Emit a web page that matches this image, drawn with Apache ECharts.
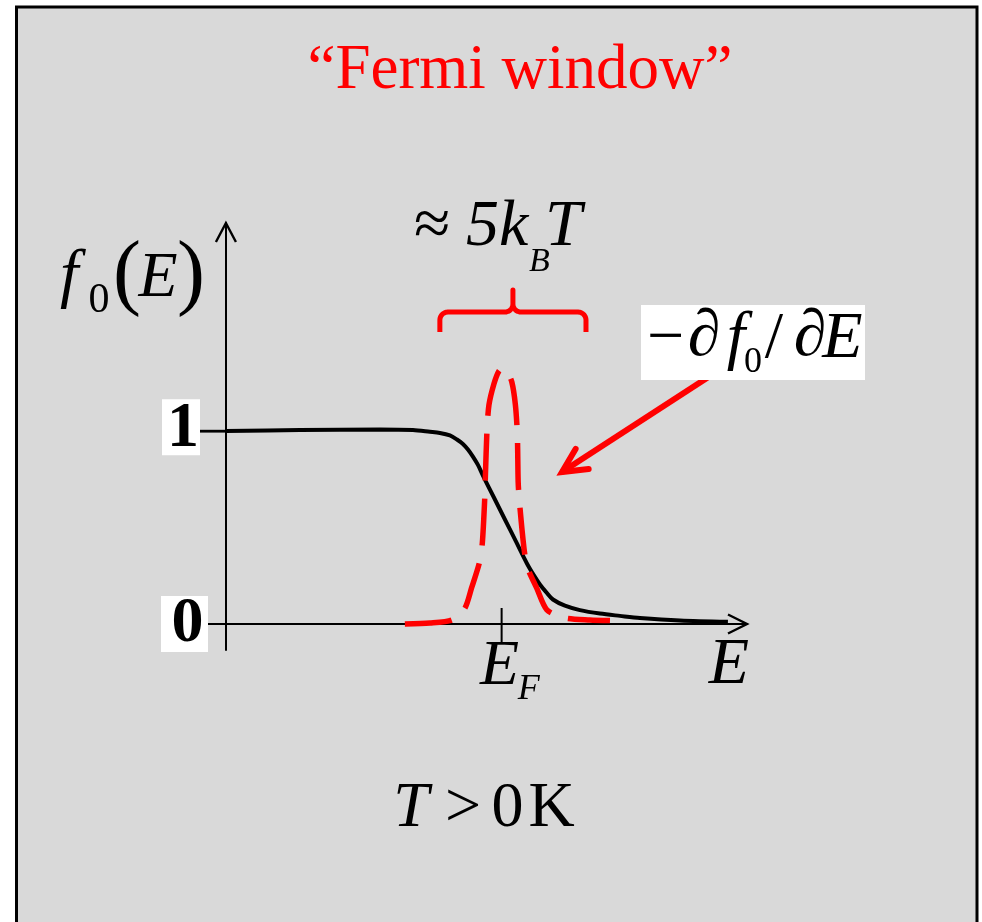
<!DOCTYPE html>
<html>
<head>
<meta charset="utf-8">
<style>
  html, body { margin: 0; padding: 0; background: #fff; }
  #chart { width: 982px; height: 922px; }
</style>
<script src="https://cdn.jsdelivr.net/npm/echarts@6/dist/echarts.min.js"></script>
</head>
<body>
<div id="chart"></div>
<script>
// Energy is measured from the vertical axis; the Fermi level sits at E = 10.
const E_F = 10;
const E_RANGE = [-0.65, 18.9];
const F_RANGE = [-0.135, 2.08];
const Y_TICKS = [0, 1];
const Y_TICK_LABELS = ['0', '1'];

// Occupation f0(E) at T > 0
const fermiE = [0.000, 2.684, 5.586, 6.783, 7.400, 7.762, 8.125, 8.379, 8.596, 8.778, 8.959, 9.141, 9.322, 9.721, 10.120, 10.519, 10.918, 11.172, 11.389, 11.643, 11.861, 12.296, 12.840, 13.566, 14.291, 15.016, 16.467, 18.208];
const fermiF = [1.001, 1.006, 1.009, 1.006, 0.997, 0.991, 0.978, 0.957, 0.934, 0.905, 0.868, 0.825, 0.770, 0.656, 0.542, 0.428, 0.314, 0.252, 0.205, 0.161, 0.127, 0.095, 0.072, 0.054, 0.042, 0.031, 0.018, 0.011];

// Fermi window  -df0/dE
const windowE = [6.49, 7.40, 8.20, 8.67, 8.91, 9.19, 9.30, 9.39, 9.41, 9.47, 9.54, 9.72, 9.90, 10.05, 10.19, 10.37, 10.50, 10.57, 10.60, 10.64, 10.81, 10.93, 11.27, 11.64, 12.30, 13.20, 13.93];
const windowF = [0.000, 0.005, 0.021, 0.083, 0.187, 0.316, 0.420, 0.659, 0.762, 1.006, 1.136, 1.245, 1.312, 1.328, 1.312, 1.255, 1.136, 0.985, 0.737, 0.643, 0.394, 0.296, 0.187, 0.073, 0.031, 0.021, 0.018];

// Bracket marking the ~5 kBT width of the window
const BRACE_FROM = 7.76, BRACE_TO = 13.06, BRACE_MID = 10.41;
const BRACE_LEVEL = 1.618, BRACE_LEG = 1.515, BRACE_TIP = 1.732;

// Pointer from the -df0/dE label to the window curve
const POINTER_TAIL = [17.6, 1.29];
const POINTER_HEAD = [12.19, 0.788];

const SERIF = '"Liberation Serif", "Times New Roman", serif';
const RED = '#ff0000';

function pairs(xs, ys) { return xs.map((x, i) => [x, ys[i]]); }
function font(size, italic, bold) { return (italic ? 'italic ' : '') + (bold ? 'bold ' : '') + size + 'px ' + SERIF; }

function txt(text, x, y, size, opt) {
  opt = opt || {};
  const a = opt.align || 'center';
  return {
    type: 'text', x: x, y: y, z: 100,
    style: {
      text: text, font: font(size, opt.italic, opt.bold), fill: opt.color || '#000',
      textAlign: a, align: a, textVerticalAlign: 'middle', verticalAlign: 'middle'
    }
  };
}
function box(x, y, w, h) {
  return { type: 'rect', z: 99, shape: { x: x, y: y, width: w, height: h }, style: { fill: '#fff' } };
}

// quarter-circle sampling for the bracket corners
function arcPts(cx, cy, r, a0, a1) {
  const pts = [];
  for (let i = 0; i <= 8; i++) {
    const a = a0 + (a1 - a0) * i / 8;
    pts.push([cx + r * Math.cos(a), cy + r * Math.sin(a)]);
  }
  return pts;
}

function chevron(tip, dir, len, half) {
  // dir: unit vector pointing from the tip back along the shaft
  const nx = -dir[1], ny = dir[0];
  const bx = tip[0] + dir[0] * len, by = tip[1] + dir[1] * len;
  return [[bx + nx * half, by + ny * half], tip, [bx - nx * half, by - ny * half]];
}

function renderDecor(params, api) {
  const children = [];
  const black = { stroke: '#000', fill: 'none', lineWidth: 2.4 };

  // axis arrowheads
  const xEnd = api.coord([E_RANGE[1], 0]);
  children.push({ type: 'polyline', shape: { points: chevron(xEnd, [-1, 0], 19, 9.5) }, style: black });
  const yEnd = api.coord([0, F_RANGE[1]]);
  children.push({ type: 'polyline', shape: { points: chevron(yEnd, [0, 1], 19, 10) }, style: black });

  // Fermi level tick crossing the energy axis
  const ef = api.coord([E_F, 0]);
  children.push({ type: 'line', shape: { x1: ef[0], y1: ef[1] - 16, x2: ef[0], y2: ef[1] + 18 }, style: { stroke: '#000', lineWidth: 2 } });

  // tick at f0 = 1
  const one = api.coord([0, 1]);
  children.push({ type: 'line', shape: { x1: one[0] - 26, y1: one[1], x2: one[0], y2: one[1] }, style: { stroke: '#000', lineWidth: 2.8 } });

  // bracket
  const L = api.coord([BRACE_FROM, BRACE_LEG]);
  const R = api.coord([BRACE_TO, BRACE_LEG]);
  const lvl = api.coord([BRACE_MID, BRACE_LEVEL]);
  const tip = api.coord([BRACE_MID, BRACE_TIP]);
  const r = 8, yb = lvl[1], xm = lvl[0];
  let pts = [[L[0], L[1]]];
  pts = pts.concat(arcPts(L[0] + r, yb + r, r, Math.PI, 1.5 * Math.PI));
  pts = pts.concat(arcPts(xm - r, yb - r, r, 0.5 * Math.PI, 0));
  pts.push([xm, tip[1]]);
  pts = pts.concat(arcPts(xm + r, yb - r, r, Math.PI, 0.5 * Math.PI));
  pts = pts.concat(arcPts(R[0] - r, yb + r, r, 1.5 * Math.PI, 2 * Math.PI));
  pts.push([R[0], R[1]]);
  children.push({ type: 'polyline', shape: { points: pts }, style: { stroke: RED, fill: 'none', lineWidth: 5, lineJoin: 'round' } });

  // pointer arrow
  const t = api.coord(POINTER_TAIL), h = api.coord(POINTER_HEAD);
  const dx = t[0] - h[0], dy = t[1] - h[1], d = Math.hypot(dx, dy);
  const u = [dx / d, dy / d];
  children.push({ type: 'line', shape: { x1: t[0], y1: t[1], x2: h[0], y2: h[1] }, style: { stroke: RED, lineWidth: 6 } });
  children.push({ type: 'polyline', shape: { points: chevron(h, u, 24, 12) }, style: { stroke: RED, fill: 'none', lineWidth: 6, lineCap: 'round', lineJoin: 'miter' } });

  return { type: 'group', children: children };
}

const chart = echarts.init(document.getElementById('chart'));

chart.setOption({
  backgroundColor: '#fff',
  animation: false,
  grid: { left: 208, top: 223, width: 539, height: 427, containLabel: false },
  xAxis: {
    type: 'value', min: E_RANGE[0], max: E_RANGE[1],
    axisLine: { show: true, onZero: true, lineStyle: { color: '#000', width: 2 } },
    axisTick: { show: false }, axisLabel: { show: false }, splitLine: { show: false }
  },
  yAxis: {
    type: 'value', min: F_RANGE[0], max: F_RANGE[1],
    axisLine: { show: true, onZero: true, lineStyle: { color: '#000', width: 2 } },
    axisTick: { show: false }, axisLabel: { show: false }, splitLine: { show: false }
  },
  series: [
    {
      name: 'f0', type: 'line', data: pairs(fermiE, fermiF), showSymbol: false,
      smooth: 0.3, z: 3,
      lineStyle: { color: '#000', width: 4 }
    },
    {
      name: 'window', type: 'line', data: pairs(windowE, windowF), showSymbol: false,
      smooth: 0.25, z: 4,
      lineStyle: { color: RED, width: 5.5, type: [47, 18], cap: 'butt' }
    },
    {
      name: 'decor', type: 'custom', data: [[0, 0]], renderItem: renderDecor, z: 5, silent: true
    }
  ]
});

// Text placed from the axes' own scales
const toPx = (v) => chart.convertToPixel({ gridIndex: 0 }, v);
const p1 = toPx([0, Y_TICKS[1]]), p0 = toPx([0, Y_TICKS[0]]), pEF = toPx([E_F, 0]), pEnd = toPx([E_RANGE[1], 0]);

const graphics = [
  // panel
  { type: 'rect', z: -100, shape: { x: 16.5, y: 7, width: 960.5, height: 960 }, style: { fill: '#d9d9d9', stroke: '#000', lineWidth: 3 } },

  // title
  txt('\u201CFermi window\u201D', 520, 71, 63, { color: RED }),

  // width of the window
  txt('\u2248', 432, 228, 66),
  txt('5k', 466, 228, 66, { italic: true, align: 'left' }),
  txt('B', 529, 262, 34, { italic: true, align: 'left' }),
  txt('T', 545, 228, 66, { italic: true, align: 'left' }),

  // vertical axis title f0(E)
  txt('f', 60, 278, 66, { italic: true, align: 'left' }),
  txt('0', 99, 301, 42),
  txt('(', 127, 277, 84),
  txt('E', 158, 279, 64, { italic: true }),
  txt(')', 191, 277, 84),

  // tick labels
  box(162, p1[1] - 32, 38, 56),
  txt(Y_TICK_LABELS[1], 183, p1[1] - 1.5, 64, { bold: true }),
  box(161, p0[1] - 28, 47, 56),
  txt(Y_TICK_LABELS[0], 187.5, p0[1] + 0.5, 64, { bold: true }),

  // Fermi level label
  txt('E', pEF[0] - 2, pEF[1] + 43.5, 64, { italic: true }),
  txt('F', pEF[0] + 27, pEF[1] + 66, 36, { italic: true }),

  // energy axis label
  txt('E', pEnd[0] - 18, pEnd[1] + 41.5, 66, { italic: true }),

  // temperature
  txt('T', 411, 809, 64, { italic: true }),
  txt('>', 463, 809, 64),
  txt('0', 507.5, 809, 64),
  txt('K', 551.5, 809, 64),

  // -df0/dE label
  box(641, 305, 224, 75),
  txt('\u2212', 665.5, 340, 66),
  txt('\u2202', 704, 338, 66, { italic: true }),
  txt('f', 736, 340, 66, { italic: true }),
  txt('0', 753, 363, 36),
  txt('/', 774, 340, 66),
  txt('\u2202', 810, 338, 66, { italic: true }),
  txt('E', 842.5, 340, 66, { italic: true })
];

chart.setOption({ graphic: graphics });
</script>
</body>
</html>
